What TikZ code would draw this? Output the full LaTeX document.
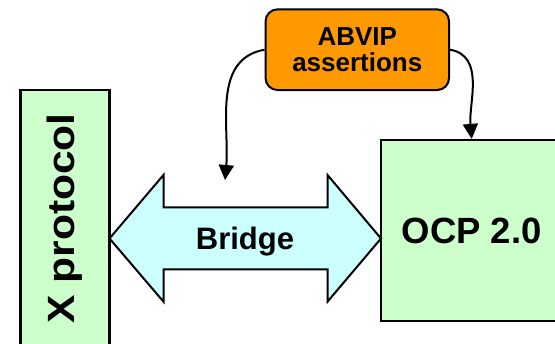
\documentclass[tikz,border=0pt]{standalone}
\usepackage{fontspec}
\setmainfont{Liberation Sans}
\usepackage{graphicx}
\usetikzlibrary{arrows.meta,calc}
\definecolor{paleg}{RGB}{204,255,204}
\definecolor{palec}{RGB}{204,255,255}
\definecolor{vorange}{RGB}{255,153,0}
\tikzset{
  block/.style={rectangle,draw=black,line width=2.2pt,fill=paleg,inner sep=0pt,align=center},
  chk/.style={rectangle,rounded corners=12pt,draw=black,line width=2pt,fill=vorange,inner sep=0pt,
              minimum width=183.5pt,minimum height=80.7pt,align=center,
              font=\bfseries\fontsize{26}{26.7}\selectfont},
  bridgeshape/.style={draw=black,line width=2pt,fill=palec,line join=miter},
  bind/.style={-{Triangle[length=15pt,width=15pt]},line width=2pt},
}

\begin{document}
\begin{tikzpicture}[x=1pt,y=1pt]
  \useasboundingbox (0,0) rectangle (555,344);
  \node[block,rotate=90,minimum width=257pt,minimum height=89pt,
        font=\bfseries\fontsize{38}{40}\selectfont] (xproto) at (65,125.5) {\scalebox{1.12}[1]{X protocol}};
  \node[block,minimum width=181.4pt,minimum height=181pt,
        font=\bfseries\fontsize{36.5}{38}\selectfont] (ocp) at (471.7,113.5) {OCP 2.0};
  \node[chk] (abvip) at (357.3,294.3) {ABVIP\\assertions};

  % bridge between the two protocols
  \coordinate (ltip) at (109.5,105.5);
  \coordinate (rtip) at (381,105.5);
  \draw[bridgeshape] (ltip) -- (163.5,169) -- (163.5,136.7) -- (327.5,136.7) -- (327.5,169)
    -- (rtip) -- (327.5,42.3) -- (327.5,74.7) -- (163.5,74.7) -- (163.5,42.3) -- cycle;
  \node[font=\bfseries\fontsize{31}{31}\selectfont,anchor=base,inner sep=0pt] (bridge) at (245,94.7) {Bridge};

  \coordinate (aim) at (225,164);
  \draw[bind] (abvip.west) to[out=190,in=85] (aim);
  \draw[bind] (abvip.east) to[out=-10,in=95] (ocp.north);
\end{tikzpicture}
\end{document}
